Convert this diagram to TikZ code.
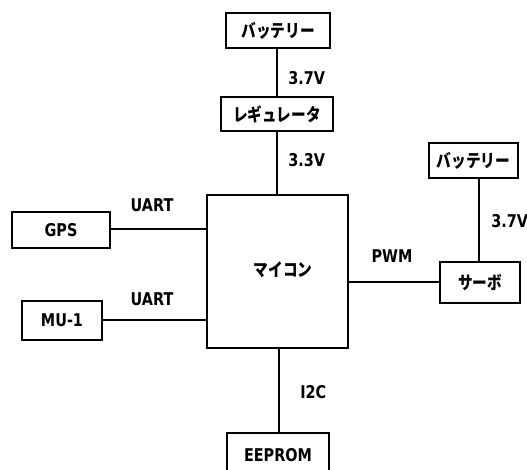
\documentclass[tikz,border=0pt]{standalone}
\usepackage{graphicx}
\usepackage{fontspec}
\setmainfont{DejaVu Sans}
\newfontfamily\jpfont{Noto Sans CJK JP}
\newcommand{\tallt}[1]{\scalebox{1}[1.22]{#1}}
\tikzset{
  blk/.style={draw, line width=1.5pt, inner sep=0pt, fill=white},
  jp/.style={font=\jpfont\bfseries\fontsize{11pt}{13pt}\selectfont},
  lat/.style={font=\bfseries\fontsize{10.8pt}{13pt}\selectfont, inner sep=0pt},
  wire/.style={line width=1.5pt}
}
\begin{document}
\begin{tikzpicture}[x=0.75pt,y=-0.75pt]
\useasboundingbox (0,0) rectangle (527,469);
\clip (0,0) rectangle (527,469);
% boxes
\node[blk, jp, minimum width=78pt, minimum height=26.25pt] (bat1) at (278,30.5) {\tallt{バッテリー}};
\node[blk, jp, minimum width=84pt, minimum height=25.5pt] (reg) at (277,114) {\tallt{レギュレータ}};
\node[blk, minimum width=105.75pt, minimum height=114.75pt] (mcu) at (277.5,271.5) {};
\node[jp] (mcutxt) at (283,270) {\tallt{マイコン}};
\node[blk, lat, minimum width=73.5pt, minimum height=27pt] (gps) at (61,230) {\tallt{GPS}};
\node[blk, lat, minimum width=60pt, minimum height=29.25pt] (mu) at (62,320.5) {\tallt{MU-1}};
\node[blk, jp, minimum width=60pt, minimum height=30.75pt] (servo) at (480,282.5) {\tallt{サーボ}};
\node[blk, jp, minimum width=66.75pt, minimum height=26.25pt] (bat2) at (473.5,160.5) {\tallt{バッテリー}};
\node[blk, lat, minimum width=76.5pt, minimum height=31.5pt, text depth=0pt] (eep) at (278,454) {\raisebox{-2pt}{\tallt{EEPROM}}};
% coordinates for wires
\coordinate (xa) at (277,0);
\coordinate (xb) at (279,0);
\coordinate (xc) at (479,0);
\coordinate (ya) at (0,229);
\coordinate (yb) at (0,320);
\coordinate (yc) at (0,282);
% wires
\draw[wire] (bat1.south -| xa) -- (reg.north -| xa);
\draw[wire] (reg.south -| xa) -- (mcu.north -| xa);
\draw[wire] (gps.east |- ya) -- (mcu.west |- ya);
\draw[wire] (mu.east |- yb) -- (mcu.west |- yb);
\draw[wire] (mcu.east |- yc) -- (servo.west |- yc);
\draw[wire] (bat2.south -| xc) -- (servo.north -| xc);
\draw[wire] (mcu.south -| xb) -- (eep.north -| xb);
% labels
\node[lat, anchor=west] (l1) at (288,78) {\tallt{3.7V}};
\node[lat, anchor=west] (l2) at (288,160) {\tallt{3.3V}};
\node[lat] (l3) at (152,205) {\tallt{UART}};
\node[lat] (l4) at (152,299) {\tallt{UART}};
\node[lat] (l5) at (392,256) {\tallt{PWM}};
\node[lat, anchor=west] (l6) at (491,221) {\tallt{3.7V}};
\node[lat, anchor=west] (l7) at (300,392) {\tallt{I2C}};
\end{tikzpicture}
\end{document}
